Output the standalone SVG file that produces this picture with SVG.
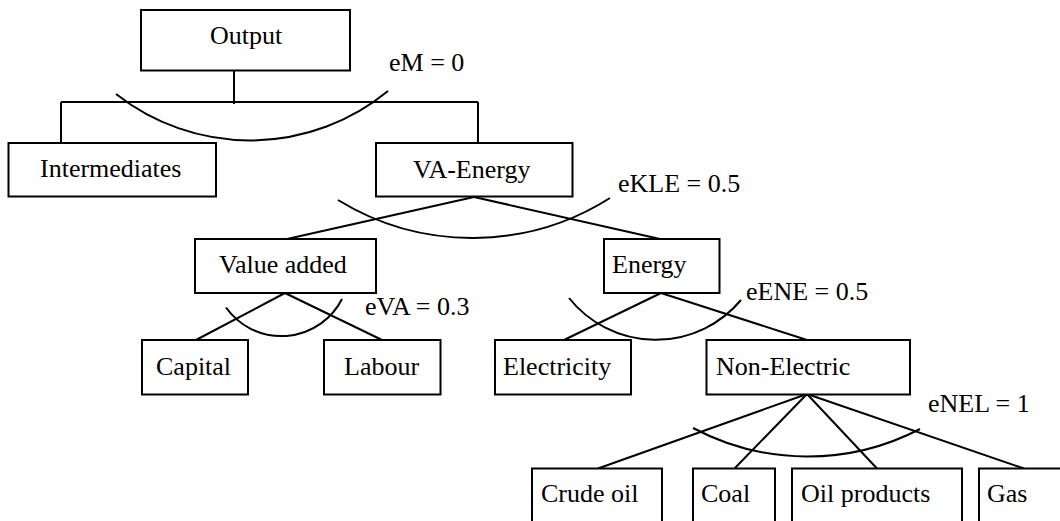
<svg xmlns="http://www.w3.org/2000/svg" width="1060" height="521" viewBox="0 0 1060 521">
<style>
  .box { fill: #ffffff; stroke: #000000; stroke-width: 2; }
  .lbl { font-family: "Liberation Serif", "Times New Roman", serif; font-size: 26px; fill: #000000; }
  .ln { fill: none; stroke: #000000; stroke-width: 2; }
</style>
<rect x="0" y="0" width="1060" height="521" fill="#ffffff"/>
<g id="connectors">
  <line class="ln" x1="234" y1="70" x2="234" y2="104"/>
  <line class="ln" x1="61" y1="102" x2="478" y2="102"/>
  <line class="ln" x1="61" y1="102" x2="61" y2="143"/>
  <line class="ln" x1="478" y1="102" x2="478" y2="143"/>
  <line class="ln" x1="474" y1="197" x2="287" y2="239"/>
  <line class="ln" x1="474" y1="197" x2="660" y2="239"/>
  <line class="ln" x1="285" y1="293" x2="196" y2="340"/>
  <line class="ln" x1="285" y1="293" x2="382" y2="340"/>
  <line class="ln" x1="661" y1="293" x2="564" y2="340"/>
  <line class="ln" x1="661" y1="293" x2="807" y2="340"/>
  <line class="ln" x1="807" y1="394" x2="598" y2="468.5"/>
  <line class="ln" x1="807" y1="394" x2="734.5" y2="468.5"/>
  <line class="ln" x1="807" y1="394" x2="877" y2="468.5"/>
  <line class="ln" x1="807" y1="394" x2="1024" y2="468.5"/>
</g>
<g id="elasticities">
  <path class="ln" d="M116 94 A217 217 0 0 0 388 91"/>
  <path class="ln" d="M338 200 A257 257 0 0 0 610 198"/>
  <path class="ln" d="M226 307.5 A68 68 0 0 0 342 299"/>
  <path class="ln" d="M569 298 A111 111 0 0 0 741 300"/>
  <path class="ln" d="M693 428 A244 244 0 0 0 920 429"/>
  <text class="lbl" x="389" y="71">eM = 0</text>
  <text class="lbl" x="618" y="192">eKLE = 0.5</text>
  <text class="lbl" x="365" y="315">eVA = 0.3</text>
  <text class="lbl" x="746" y="300">eENE = 0.5</text>
  <text class="lbl" x="928" y="412">eNEL = 1</text>
</g>
<g id="node-output"><rect class="box" x="141" y="10" width="209" height="60.5"/><text class="lbl" x="210" y="44">Output</text></g>
<g id="node-intermediates"><rect class="box" x="8.5" y="143" width="207.5" height="53.5"/><text class="lbl" x="40" y="177">Intermediates</text></g>
<g id="node-vaenergy"><rect class="box" x="376" y="143" width="196.5" height="53.5"/><text class="lbl" x="413" y="178">VA-Energy</text></g>
<g id="node-valueadded"><rect class="box" x="195" y="239" width="181" height="54"/><text class="lbl" x="219" y="273">Value added</text></g>
<g id="node-energy"><rect class="box" x="604" y="239" width="115.5" height="54"/><text class="lbl" x="612" y="273">Energy</text></g>
<g id="node-capital"><rect class="box" x="142" y="340" width="106" height="54.5"/><text class="lbl" x="156" y="375">Capital</text></g>
<g id="node-labour"><rect class="box" x="324" y="340" width="116.5" height="54.5"/><text class="lbl" x="344" y="375">Labour</text></g>
<g id="node-electricity"><rect class="box" x="495" y="340" width="136" height="54.5"/><text class="lbl" x="503" y="375">Electricity</text></g>
<g id="node-nonelectric"><rect class="box" x="706.5" y="340" width="203.5" height="54.5"/><text class="lbl" x="716" y="375">Non-Electric</text></g>
<g id="node-crudeoil"><rect class="box" x="532" y="468.5" width="130" height="60"/><text class="lbl" x="541" y="502">Crude oil</text></g>
<g id="node-coal"><rect class="box" x="693" y="468.5" width="82" height="60"/><text class="lbl" x="701" y="502">Coal</text></g>
<g id="node-oilproducts"><rect class="box" x="792" y="468.5" width="170" height="60"/><text class="lbl" x="801" y="502">Oil products</text></g>
<g id="node-gas"><rect class="box" x="979" y="468.5" width="100" height="60"/><text class="lbl" x="987" y="502">Gas</text></g>
</svg>
